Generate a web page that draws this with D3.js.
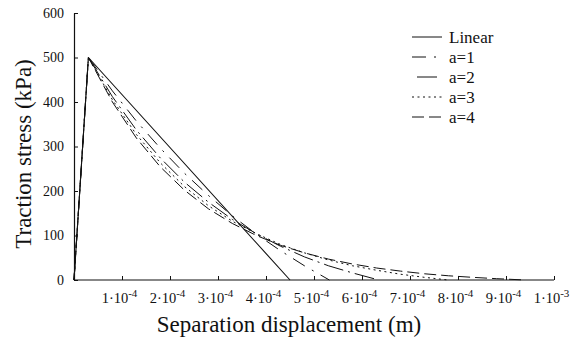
<!DOCTYPE html>
<html>
<head>
<meta charset="utf-8">
<script src="https://cdn.jsdelivr.net/npm/d3@7"></script>
<style>
  html, body { margin: 0; padding: 0; background: #fff; }
  svg { display: block; }
</style>
</head>
<body>
<svg id="chart" width="581" height="341"></svg>
<script>
// ---- data (displacement in m, stress in kPa) ----
const seriesNames = ["Linear", "a=1", "a=2", "a=3", "a=4"];
const linearX = [0, 0.00003, 0.00045];
const linearY = [0, 500, 0];
const a1X = [0, 0.00003, 0.00008, 0.00013, 0.00018, 0.00023, 0.00028, 0.00033, 0.00038, 0.00043, 0.00048, 0.000532];
const a1Y = [0, 500, 425, 357, 296, 240, 190, 144, 103, 66, 32, 0];
const a2X = [0, 0.00003, 0.00008, 0.00013, 0.00018, 0.00023, 0.00028, 0.00033, 0.00038, 0.00043, 0.00048, 0.00053, 0.00058, 0.000635];
const a2Y = [0, 500, 412, 337, 274, 220, 175, 136, 104, 76, 52, 32, 16, 0];
const a3X = [0, 0.00003, 0.00008, 0.00013, 0.00018, 0.00023, 0.00028, 0.00033, 0.00038, 0.00043, 0.00048, 0.00053, 0.00058, 0.00063, 0.00068, 0.00073, 0.00078];
const a3Y = [0, 500, 405, 327, 263, 210, 167, 132, 104, 80, 61, 45, 32, 22, 13, 6, 0];
const a4X = [0, 0.00003, 0.00008, 0.00013, 0.00018, 0.00023, 0.00028, 0.00033, 0.00038, 0.00043, 0.00048, 0.00053, 0.00058, 0.00063, 0.00068, 0.00073, 0.00078, 0.00083, 0.00088, 0.00094];
const a4Y = [0, 500, 400, 319, 254, 202, 160, 127, 100, 78, 61, 47, 36, 27, 20, 14, 9.5, 6, 3, 0];
const yTicks = [0, 100, 200, 300, 400, 500, 600];
const xTicks = [0.0001, 0.0002, 0.0003, 0.0004, 0.0005, 0.0006, 0.0007, 0.0008, 0.0009, 0.001];
const xTickMant = ["1", "2", "3", "4", "5", "6", "7", "8", "9", "1"];
const xTickExp = ["-4", "-4", "-4", "-4", "-4", "-4", "-4", "-4", "-4", "-3"];
const xTitle = "Separation displacement (m)";
const yTitle = "Traction stress (kPa)";

const FONT = '"Liberation Serif"';
const seriesX = [linearX, a1X, a2X, a3X, a4X];
const seriesY = [linearY, a1Y, a2Y, a3Y, a4Y];
const dashes = [null, "14,8,2,8", "20,5,2,5", "2,3.5", "12,5"];
const legendDashOffset = [0, 0, 27, 0, 0];

const svg = d3.select("#chart");
const x = d3.scaleLinear().domain([0, 0.001]).range([74, 554]);
const y = d3.scaleLinear().domain([0, 600]).range([280, 13]);

// y axis
const gy = svg.append("g").attr("transform", "translate(74,0)")
  .call(d3.axisLeft(y).tickValues(yTicks).tickSize(-4).tickPadding(10).tickSizeOuter(0));
gy.style("font-family", FONT);
gy.select(".domain").attr("stroke", "#111").attr("stroke-width", 1.2);
gy.selectAll(".tick line").attr("stroke", "#111");
gy.selectAll(".tick text").style("font-size", "14px").attr("fill", "#111")
  .style("font-family", FONT);

// x axis
const gx = svg.append("g").attr("transform", "translate(0,280)")
  .call(d3.axisBottom(x).tickValues(xTicks).tickSize(-4).tickSizeOuter(0).tickFormat(() => ""));
gx.style("font-family", FONT);
gx.select(".domain").attr("stroke", "#111").attr("stroke-width", 1.2)
  .attr("d", `M${x(0)},0H${x(0.001)}`);
gx.selectAll(".tick line").attr("stroke", "#111");
gx.selectAll(".tick text").each(function(d, i) {
  const t = d3.select(this).text(null)
    .attr("y", 23).attr("dy", null).attr("dx", -3)
    .attr("text-anchor", "middle")
    .style("font-family", FONT)
    .style("font-size", "14.5px").attr("fill", "#111");
  t.append("tspan").text(xTickMant[i] + "\u00b710");
  t.append("tspan").attr("dy", -6).style("font-size", "11px").text(xTickExp[i]);
});

// lines
const line = d3.line().x(d => x(d[0])).y(d => y(d[1]));
seriesNames.forEach((name, i) => {
  const pts = seriesX[i].map((v, j) => [v, seriesY[i][j]]);
  svg.append("path").datum(pts)
    .attr("d", line)
    .attr("fill", "none").attr("stroke", "#111")
    .attr("stroke-width", i === 0 ? 1.1 : 1)
    .attr("stroke-linejoin", "round")
    .attr("stroke-dasharray", dashes[i]);
});

// legend
const lg = svg.append("g");
seriesNames.forEach((name, i) => {
  const yy = 37 + i * 20;
  lg.append("line").attr("x1", 412).attr("x2", 442).attr("y1", yy).attr("y2", yy)
    .attr("stroke", "#111").attr("stroke-width", 1)
    .attr("stroke-dasharray", dashes[i])
    .attr("stroke-dashoffset", legendDashOffset[i]);
  lg.append("text").attr("x", 449).attr("y", yy + 6)
    .style("font-family", FONT).style("font-size", "17px").attr("fill", "#111").text(name);
});

// titles
svg.append("text").attr("x", 289).attr("y", 332).attr("text-anchor", "middle")
  .style("font-family", FONT).style("font-size", "23px").attr("fill", "#111").text(xTitle);
svg.append("text").attr("transform", "translate(31,154) rotate(-90)").attr("text-anchor", "middle")
  .style("font-family", FONT).style("font-size", "23px").attr("fill", "#111").text(yTitle);
</script>
</body>
</html>
